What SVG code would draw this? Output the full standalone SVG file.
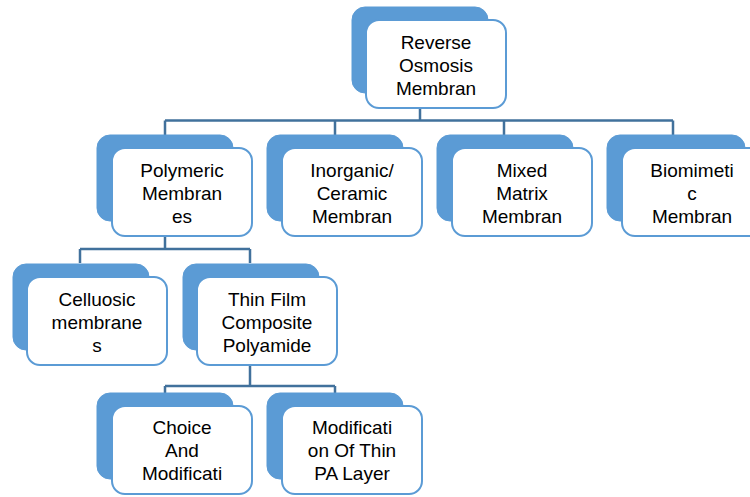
<svg xmlns="http://www.w3.org/2000/svg" width="750" height="497" viewBox="0 0 750 497">
<style>
.back{fill:#5B9BD5;stroke:#5B9BD5;stroke-width:1}
.front{fill:#FFFFFF;stroke:#5B9BD5;stroke-width:2}
.t{font-family:"Liberation Sans",Arial,sans-serif;font-size:19px;fill:#000;text-anchor:middle}
.c{fill:none;stroke:#41719C;stroke-width:2.5}
</style>
<rect width="750" height="497" fill="#FFFFFF"/>
<g id="connectors">
<path class="c" d="M420,108V120.5M165,120.5H673M165,120.5V135M335,120.5V135M504,120.5V135M673,120.5V135"/>
<path class="c" d="M165,236V249M80,249H250M80,249V263M250,249V263"/>
<path class="c" d="M250,365V386M165,386H335M165,386V393M335,386V393"/>
</g>
<g id="n-ro">
<rect class="back" x="352" y="7" width="136" height="86" rx="13"/>
<rect class="front" x="366" y="20" width="140" height="88" rx="13"/>
<text class="t" x="436" y="49">Reverse</text>
<text class="t" x="436" y="72">Osmosis</text>
<text class="t" x="436" y="95">Membran</text>
</g>
<g id="n-poly">
<rect class="back" x="97" y="135" width="136" height="86" rx="13"/>
<rect class="front" x="112" y="148" width="140" height="88" rx="13"/>
<text class="t" x="182" y="177">Polymeric</text>
<text class="t" x="182" y="200">Membran</text>
<text class="t" x="182" y="223">es</text>
</g>
<g id="n-inorg">
<rect class="back" x="267" y="135" width="136" height="86" rx="13"/>
<rect class="front" x="282" y="148" width="140" height="88" rx="13"/>
<text class="t" x="352" y="177">Inorganic/</text>
<text class="t" x="352" y="200">Ceramic</text>
<text class="t" x="352" y="223">Membran</text>
</g>
<g id="n-mixed">
<rect class="back" x="437" y="135" width="136" height="86" rx="13"/>
<rect class="front" x="452" y="148" width="140" height="88" rx="13"/>
<text class="t" x="522" y="177">Mixed</text>
<text class="t" x="522" y="200">Matrix</text>
<text class="t" x="522" y="223">Membran</text>
</g>
<g id="n-bio">
<rect class="back" x="607" y="135" width="138" height="86" rx="13"/>
<rect class="front" x="622" y="148" width="140" height="88" rx="13"/>
<text class="t" x="692" y="177">Biomimeti</text>
<text class="t" x="692" y="200">c</text>
<text class="t" x="692" y="223">Membran</text>
</g>
<g id="n-cell">
<rect class="back" x="13" y="264" width="136" height="86" rx="13"/>
<rect class="front" x="27" y="277" width="140" height="88" rx="13"/>
<text class="t" x="97" y="306">Celluosic</text>
<text class="t" x="97" y="329">membrane</text>
<text class="t" x="97" y="352">s</text>
</g>
<g id="n-tfc">
<rect class="back" x="183" y="264" width="136" height="86" rx="13"/>
<rect class="front" x="197" y="277" width="140" height="88" rx="13"/>
<text class="t" x="267" y="306">Thin Film</text>
<text class="t" x="267" y="329">Composite</text>
<text class="t" x="267" y="352">Polyamide</text>
</g>
<g id="n-choice">
<rect class="back" x="97" y="393" width="136" height="86" rx="13"/>
<rect class="front" x="112" y="406" width="140" height="88" rx="13"/>
<text class="t" x="182" y="434">Choice</text>
<text class="t" x="182" y="457">And</text>
<text class="t" x="182" y="480">Modificati</text>
</g>
<g id="n-modpa">
<rect class="back" x="267" y="393" width="136" height="86" rx="13"/>
<rect class="front" x="282" y="406" width="140" height="88" rx="13"/>
<text class="t" x="352" y="434">Modificati</text>
<text class="t" x="352" y="457">on Of Thin</text>
<text class="t" x="352" y="480">PA Layer</text>
</g>
</svg>
